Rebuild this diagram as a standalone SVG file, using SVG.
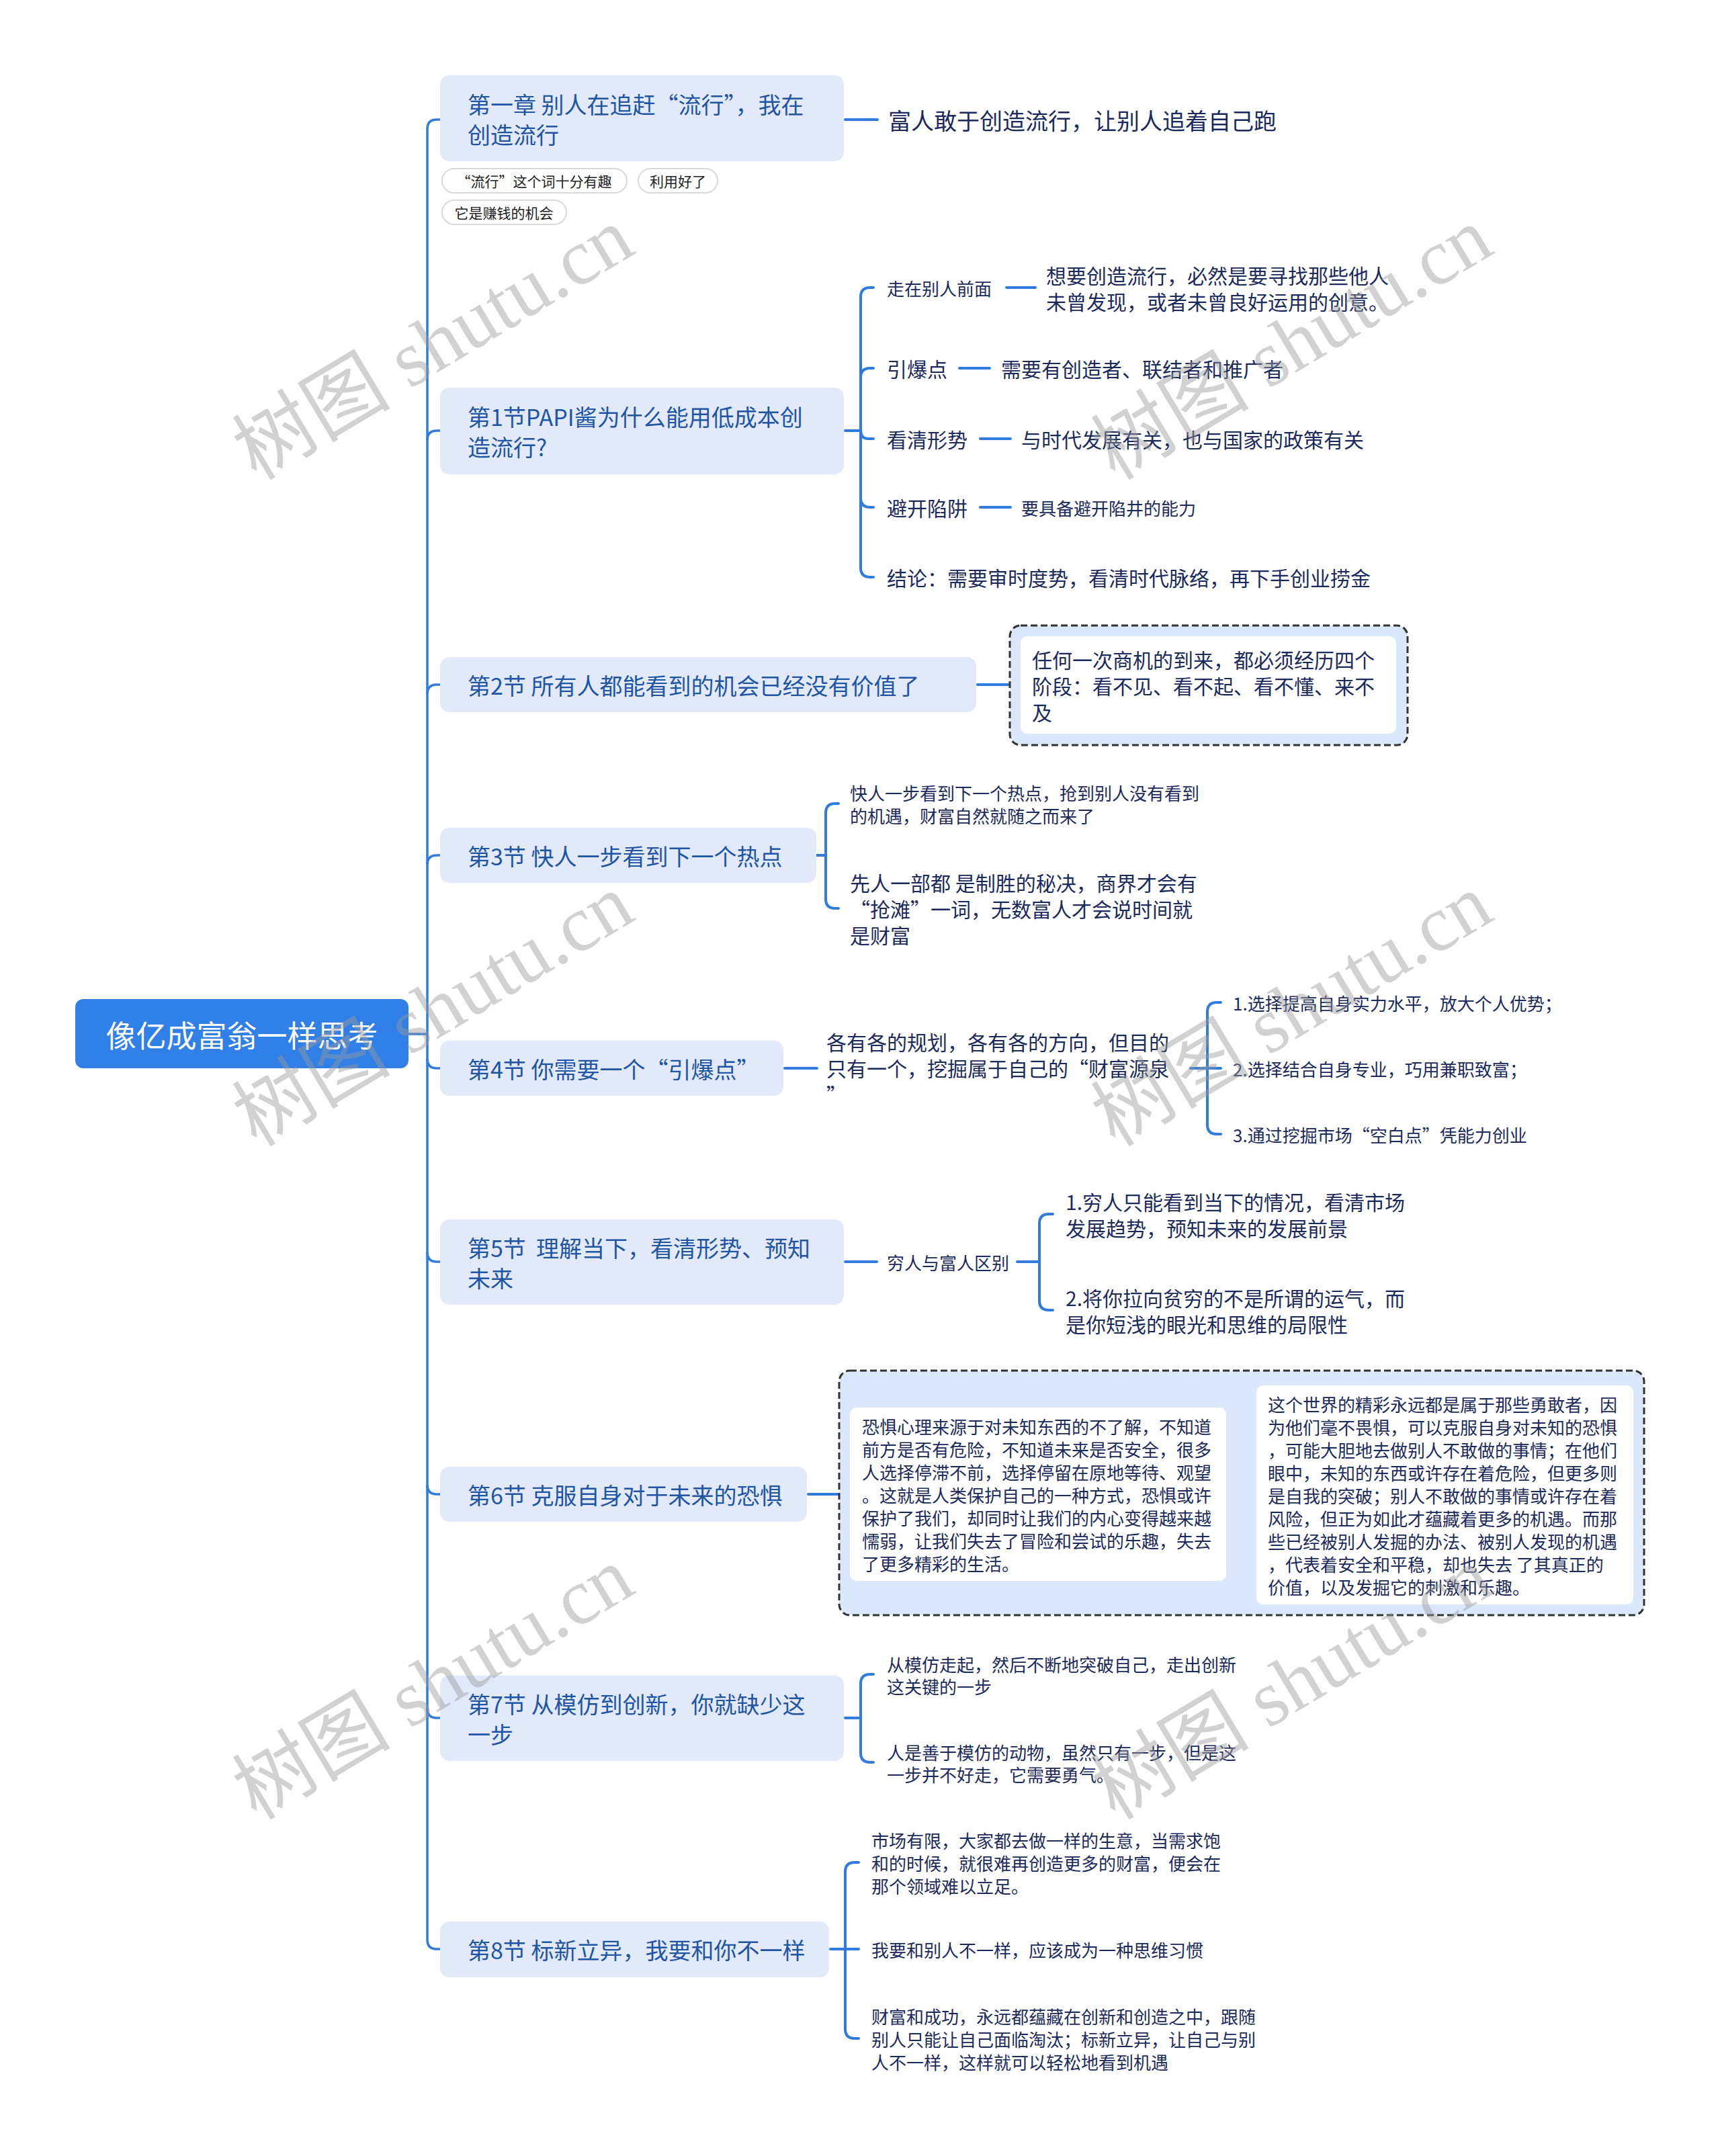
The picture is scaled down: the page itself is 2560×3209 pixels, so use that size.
<svg xmlns="http://www.w3.org/2000/svg" width="2560" height="3209" viewBox="0 0 2560 3209">
<style>
text{font-family:"Noto Sans CJK SC","Noto Sans",sans-serif;dominant-baseline:central;white-space:pre}
.l1{font-size:34px;fill:#1f55a6}
.c34{font-size:34px;fill:#1b2a5e}
.c30{font-size:30px;fill:#1b2a5e}
.c26{font-size:26px;fill:#1b2a5e}
.tag{font-size:21px;fill:#222}
.n1{fill:#e1e9fb}
.cn{fill:none;stroke:#2f7be0;stroke-width:4;stroke-linecap:round}
.trunk{fill:none;stroke:#2f7be0;stroke-width:3.5}
.pill{fill:#fff;stroke:#d9d9d9;stroke-width:2}
.dash{fill:#dbe7fd;stroke:#333;stroke-width:3;stroke-dasharray:10 5}
.inner{fill:#fff}
.wm{font-family:"Liberation Serif","Noto Sans CJK SC",serif;font-size:118px;fill:#9a9a9a;fill-opacity:0.45}
</style>
<rect width="2560" height="3209" fill="#fff"/>

<g id="connectors">
<path class="trunk" d="M608 1539 L636 1539"/>
<path class="trunk" d="M655 178 L650 178 Q636 178 636 192 L636 2887 Q636 2901 650 2901 L655 2901"/>
<path class="trunk" d="M636 655 Q636 641 650 641 L655 641"/>
<path class="trunk" d="M636 1033 Q636 1019 650 1019 L655 1019"/>
<path class="trunk" d="M636 1287 Q636 1273 650 1273 L655 1273"/>
<path class="trunk" d="M636 1576 Q636 1590 650 1590 L655 1590"/>
<path class="trunk" d="M636 1864 Q636 1878 650 1878 L655 1878"/>
<path class="trunk" d="M636 2210 Q636 2224 650 2224 L655 2224"/>
<path class="trunk" d="M636 2543 Q636 2557 650 2557 L655 2557"/>
<!-- node1 -->
<path class="cn" d="M1258 178 L1306 178"/>
<!-- papi -->
<path class="cn" d="M1258 641 L1281 641"/>
<path class="cn" d="M1281 442 L1281 845"/>
<path class="cn" d="M1281 442 Q1281 428 1295 428 L1300 428"/>
<path class="cn" d="M1281 562 Q1281 548 1295 548 L1300 548"/>
<path class="cn" d="M1281 641 Q1281 653 1293 653 L1300 653"/>
<path class="cn" d="M1281 741 Q1281 755 1295 755 L1300 755"/>
<path class="cn" d="M1281 845 Q1281 859 1295 859 L1300 859"/>
<path class="cn" d="M1498 428 L1541 428"/>
<path class="cn" d="M1428 548 L1473 548"/>
<path class="cn" d="M1459 653 L1504 653"/>
<path class="cn" d="M1459 755 L1504 755"/>
<!-- node2 -->
<path class="cn" d="M1455 1019 L1518 1019"/>
<!-- node3 -->
<path class="cn" d="M1215 1273 L1229 1273"/>
<path class="cn" d="M1229 1210 L1229 1338"/>
<path class="cn" d="M1229 1210 Q1229 1196 1243 1196 L1248 1196"/>
<path class="cn" d="M1229 1338 Q1229 1352 1243 1352 L1248 1352"/>
<!-- node4 -->
<path class="cn" d="M1168 1590 L1216 1590"/>
<path class="cn" d="M1772 1590 L1817 1590"/>
<path class="cn" d="M1797 1506 L1797 1674"/>
<path class="cn" d="M1797 1506 Q1797 1492 1811 1492 L1817 1492"/>
<path class="cn" d="M1797 1674 Q1797 1688 1811 1688 L1817 1688"/>
<!-- node5 -->
<path class="cn" d="M1258 1878 L1305 1878"/>
<path class="cn" d="M1514 1878 L1547 1878"/>
<path class="cn" d="M1547 1821 L1547 1936"/>
<path class="cn" d="M1547 1821 Q1547 1807 1561 1807 L1567 1807"/>
<path class="cn" d="M1547 1936 Q1547 1950 1561 1950 L1567 1950"/>
<!-- node6 -->
<path class="cn" d="M1203 2224 L1265 2224"/>
<path class="cn" d="M1825 2224 L1870 2224"/>
<!-- node7 -->
<path class="cn" d="M1258 2557 L1281 2557"/>
<path class="cn" d="M1281 2506 L1281 2609"/>
<path class="cn" d="M1281 2506 Q1281 2492 1295 2492 L1300 2492"/>
<path class="cn" d="M1281 2609 Q1281 2623 1295 2623 L1300 2623"/>
<!-- node8 -->
<path class="cn" d="M1236 2901 L1278 2901"/>
<path class="cn" d="M1258 2786 L1258 3020"/>
<path class="cn" d="M1258 2786 Q1258 2772 1272 2772 L1278 2772"/>
<path class="cn" d="M1258 3020 Q1258 3034 1272 3034 L1278 3034"/>
</g>

<g id="root">
<rect x="112" y="1487" width="496" height="103" rx="12" fill="#3080e8"/>
<text x="360" y="1539" font-size="45" fill="#fff" text-anchor="middle">像亿成富翁一样思考</text>
</g>

<g id="n-ch1">
<rect class="n1" x="655" y="112" width="601" height="128" rx="14"/>
<text class="l1" x="696" y="154">第一章 别人在追赶“流行”，我在</text>
<text class="l1" x="696" y="199">创造流行</text>
</g>
<g id="tags">
<rect class="pill" x="658" y="251" width="275" height="36" rx="18"/>
<text class="tag" x="795" y="269" text-anchor="middle">“流行”这个词十分有趣</text>
<rect class="pill" x="950" y="251" width="118" height="36" rx="18"/>
<text class="tag" x="1009" y="269" text-anchor="middle">利用好了</text>
<rect class="pill" x="658" y="298" width="185" height="36" rx="18"/>
<text class="tag" x="750" y="316" text-anchor="middle">它是赚钱的机会</text>
</g>
<g id="c-ch1"><text class="c34" x="1322" y="178">富人敢于创造流行，让别人追着自己跑</text></g>

<g id="n-s1">
<rect class="n1" x="655" y="577" width="601" height="129" rx="14"/>
<text class="l1" x="696" y="619">第1节PAPI酱为什么能用低成本创</text>
<text class="l1" x="696" y="664">造流行?</text>
</g>
<g id="c-s1">
<text class="c26" x="1320" y="428">走在别人前面</text>
<text class="c30" x="1557" y="409">想要创造流行，必然是要寻找那些他人</text>
<text class="c30" x="1557" y="448">未曾发现，或者未曾良好运用的创意。</text>
<text class="c30" x="1320" y="548">引爆点</text>
<text class="c30" x="1490" y="548">需要有创造者、联结者和推广者</text>
<text class="c30" x="1320" y="653">看清形势</text>
<text class="c30" x="1520" y="653">与时代发展有关，也与国家的政策有关</text>
<text class="c30" x="1320" y="755">避开陷阱</text>
<text class="c26" x="1520" y="755">要具备避开陷井的能力</text>
<text class="c30" x="1320" y="859">结论：需要审时度势，看清时代脉络，再下手创业捞金</text>
</g>

<g id="n-s2">
<rect class="n1" x="655" y="978" width="798" height="82" rx="14"/>
<text class="l1" x="696" y="1019">第2节 所有人都能看到的机会已经没有价值了</text>
</g>
<g id="c-s2">
<rect class="dash" x="1503" y="931" width="592" height="178" rx="16"/>
<rect class="inner" x="1519" y="947" width="559" height="145" rx="10"/>
<text class="c30" x="1536" y="981">任何一次商机的到来，都必须经历四个</text>
<text class="c30" x="1536" y="1020">阶段：看不见、看不起、看不懂、来不</text>
<text class="c30" x="1536" y="1059">及</text>
</g>

<g id="n-s3">
<rect class="n1" x="655" y="1232" width="560" height="82" rx="14"/>
<text class="l1" x="696" y="1273">第3节 快人一步看到下一个热点</text>
</g>
<g id="c-s3">
<text class="c26" x="1265" y="1179">快人一步看到下一个热点，抢到别人没有看到</text>
<text class="c26" x="1265" y="1213">的机遇，财富自然就随之而来了</text>
<text class="c30" x="1265" y="1313">先人一部都 是制胜的秘决，商界才会有</text>
<text class="c30" x="1265" y="1352">“抢滩”一词，无数富人才会说时间就</text>
<text class="c30" x="1265" y="1391">是财富</text>
</g>

<g id="n-s4">
<rect class="n1" x="655" y="1549" width="511" height="82" rx="14"/>
<text class="l1" x="696" y="1590">第4节 你需要一个“引爆点”</text>
</g>
<g id="c-s4">
<text class="c30" x="1230" y="1550">各有各的规划，各有各的方向，但目的</text>
<text class="c30" x="1230" y="1589">只有一个，挖掘属于自己的“财富源泉</text>
<text class="c30" x="1230" y="1628">”</text>
<text class="c26" x="1835" y="1492">1.选择提高自身实力水平，放大个人优势；</text>
<text class="c26" x="1835" y="1590">2.选择结合自身专业，巧用兼职致富；</text>
<text class="c26" x="1835" y="1688">3.通过挖掘市场“空白点”凭能力创业</text>
</g>

<g id="n-s5">
<rect class="n1" x="655" y="1815" width="601" height="127" rx="14"/>
<text class="l1" x="696" y="1856">第5节  理解当下，看清形势、预知</text>
<text class="l1" x="696" y="1901">未来</text>
</g>
<g id="c-s5">
<text class="c26" x="1320" y="1878">穷人与富人区别</text>
<text class="c30" x="1586" y="1788">1.穷人只能看到当下的情况，看清市场</text>
<text class="c30" x="1586" y="1827">发展趋势，预知未来的发展前景</text>
<text class="c30" x="1586" y="1931">2.将你拉向贫穷的不是所谓的运气，而</text>
<text class="c30" x="1586" y="1970">是你短浅的眼光和思维的局限性</text>
</g>

<g id="n-s6">
<rect class="n1" x="655" y="2183" width="546" height="82" rx="14"/>
<text class="l1" x="696" y="2224">第6节 克服自身对于未来的恐惧</text>
</g>
<g id="c-s6">
<rect class="dash" x="1249" y="2040" width="1198" height="364" rx="16"/>
<rect class="inner" x="1265" y="2095" width="560" height="258" rx="10"/>
<text class="c26" x="1283" y="2122">恐惧心理来源于对未知东西的不了解，不知道</text>
<text class="c26" x="1283" y="2156">前方是否有危险，不知道未来是否安全，很多</text>
<text class="c26" x="1283" y="2190">人选择停滞不前，选择停留在原地等待、观望</text>
<text class="c26" x="1283" y="2224">。这就是人类保护自己的一种方式，恐惧或许</text>
<text class="c26" x="1283" y="2258">保护了我们，却同时让我们的内心变得越来越</text>
<text class="c26" x="1283" y="2292">懦弱，让我们失去了冒险和尝试的乐趣，失去</text>
<text class="c26" x="1283" y="2326">了更多精彩的生活。</text>
<rect class="inner" x="1870" y="2062" width="561" height="326" rx="10"/>
<text class="c26" x="1887" y="2089">这个世界的精彩永远都是属于那些勇敢者，因</text>
<text class="c26" x="1887" y="2123">为他们毫不畏惧，可以克服自身对未知的恐惧</text>
<text class="c26" x="1887" y="2157">，可能大胆地去做别人不敢做的事情；在他们</text>
<text class="c26" x="1887" y="2191">眼中，未知的东西或许存在着危险，但更多则</text>
<text class="c26" x="1887" y="2225">是自我的突破；别人不敢做的事情或许存在着</text>
<text class="c26" x="1887" y="2259">风险，但正为如此才蕴藏着更多的机遇。而那</text>
<text class="c26" x="1887" y="2293">些已经被别人发掘的办法、被别人发现的机遇</text>
<text class="c26" x="1887" y="2327">，代表着安全和平稳，却也失去 了其真正的</text>
<text class="c26" x="1887" y="2361">价值，以及发掘它的刺激和乐趣。</text>
</g>

<g id="n-s7">
<rect class="n1" x="655" y="2494" width="601" height="127" rx="14"/>
<text class="l1" x="696" y="2535">第7节 从模仿到创新，你就缺少这</text>
<text class="l1" x="696" y="2580">一步</text>
</g>
<g id="c-s7">
<text class="c26" x="1320" y="2476">从模仿走起，然后不断地突破自己，走出创新</text>
<text class="c26" x="1320" y="2509">这关键的一步</text>
<text class="c26" x="1320" y="2607">人是善于模仿的动物，虽然只有一步，但是这</text>
<text class="c26" x="1320" y="2640">一步并不好走，它需要勇气。</text>
</g>

<g id="n-s8">
<rect class="n1" x="655" y="2860" width="579" height="83" rx="14"/>
<text class="l1" x="696" y="2901">第8节 标新立异，我要和你不一样</text>
</g>
<g id="c-s8">
<text class="c26" x="1297" y="2738">市场有限，大家都去做一样的生意，当需求饱</text>
<text class="c26" x="1297" y="2772">和的时候，就很难再创造更多的财富，便会在</text>
<text class="c26" x="1297" y="2806">那个领域难以立足。</text>
<text class="c26" x="1297" y="2901">我要和别人不一样，应该成为一种思维习惯</text>
<text class="c26" x="1297" y="3000">财富和成功，永远都蕴藏在创新和创造之中，跟随</text>
<text class="c26" x="1297" y="3034">别人只能让自己面临淘汰；标新立异，让自己与别</text>
<text class="c26" x="1297" y="3068">人不一样，这样就可以轻松地看到机遇</text>
</g>

<g id="watermarks">
<text class="wm" x="645" y="512" text-anchor="middle" transform="rotate(-31 645 512)">树图 shutu.cn</text>
<text class="wm" x="1923" y="512" text-anchor="middle" transform="rotate(-31 1923 512)">树图 shutu.cn</text>
<text class="wm" x="645" y="1504" text-anchor="middle" transform="rotate(-31 645 1504)">树图 shutu.cn</text>
<text class="wm" x="1923" y="1504" text-anchor="middle" transform="rotate(-31 1923 1504)">树图 shutu.cn</text>
<text class="wm" x="645" y="2506" text-anchor="middle" transform="rotate(-31 645 2506)">树图 shutu.cn</text>
<text class="wm" x="1923" y="2506" text-anchor="middle" transform="rotate(-31 1923 2506)">树图 shutu.cn</text>
</g>
</svg>
